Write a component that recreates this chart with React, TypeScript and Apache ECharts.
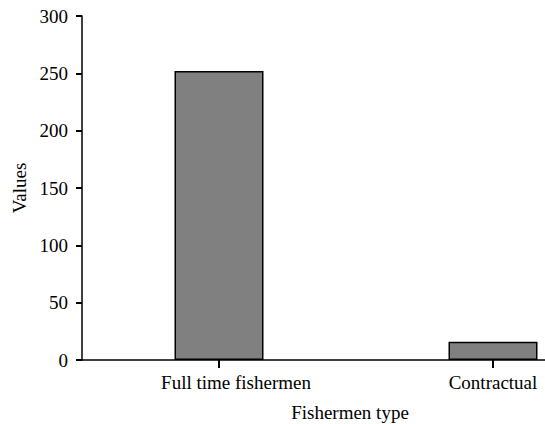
import React, { useEffect, useRef } from "react";
import * as echarts from "echarts";

const categories = ["Full time fishermen", "Contractual"];
const values = [252, 16];
const yTicks = { min: 0, max: 300, interval: 50 };
const xTitle = "Fishermen type";
const yTitle = "Values";

export default function App() {
  const ref = useRef<HTMLDivElement>(null);
  useEffect(() => {
    if (!ref.current) return;
    const chart = echarts.init(ref.current, null, { renderer: "svg" });
    const font = "'Liberation Serif', 'Times New Roman', serif";
    chart.setOption({
      animation: false,
      backgroundColor: "#ffffff",
      grid: {
        left: 82,
        top: 16,
        height: 344,
        width: 548,
        containLabel: false,
        outerBoundsMode: "none",
      },
      xAxis: {
        type: "category",
        data: categories.map((c, i) =>
          i === 0 ? { value: c, textStyle: { padding: [0, 0, 0, 34] } } : { value: c }
        ),
        boundaryGap: true,
        name: xTitle,
        nameLocation: "middle",
        nameGap: 43,
        nameTextStyle: { fontFamily: font, fontSize: 19, color: "#000", padding: [0, 12, 0, 0] },
        axisLine: { show: true, lineStyle: { color: "#000", width: 1.5 } },
        axisTick: {
          show: true,
          interval: 0,
          inside: false,
          alignWithLabel: true,
          length: 8,
          lineStyle: { color: "#000", width: 2, opacity: 1 },
        },
        axisLabel: { fontFamily: font, fontSize: 19, color: "#000", margin: 13, interval: 0, hideOverlap: false },
        splitLine: { show: false },
      },
      yAxis: {
        type: "value",
        min: yTicks.min,
        max: yTicks.max,
        interval: yTicks.interval,
        name: yTitle,
        nameLocation: "middle",
        nameGap: 52,
        nameRotate: 90,
        nameTextStyle: { fontFamily: font, fontSize: 19, color: "#000" },
        axisLine: { show: true, lineStyle: { color: "#000", width: 1.5 } },
        axisTick: { show: true, length: 6, lineStyle: { color: "#000", width: 2 } },
        axisLabel: { fontFamily: font, fontSize: 19, color: "#000", margin: 14 },
        splitLine: { show: false },
      },
      series: [
        {
          type: "bar",
          data: values,
          barWidth: 89,
          itemStyle: { color: "#808080", borderColor: "#000", borderWidth: 1.5 },
        },
        {
          type: "custom",
          silent: true,
          clip: false,
          z: 10,
          data: categories.map((c, i) => [i, 0]),
          encode: { x: 0, y: 1 },
          renderItem: (params: any, api: any) => {
            const p = api.coord([api.value(0), api.value(1)]);
            return {
              type: "line",
              shape: { x1: p[0], y1: p[1], x2: p[0], y2: p[1] + 7 },
              style: { stroke: "#000", lineWidth: 2 },
            };
          },
        },
      ],
    });
    return () => chart.dispose();
  }, []);
  return (
    <div
      ref={ref}
      style={{ position: "absolute", left: 0, top: 0, width: 545, height: 424 }}
    />
  );
}
